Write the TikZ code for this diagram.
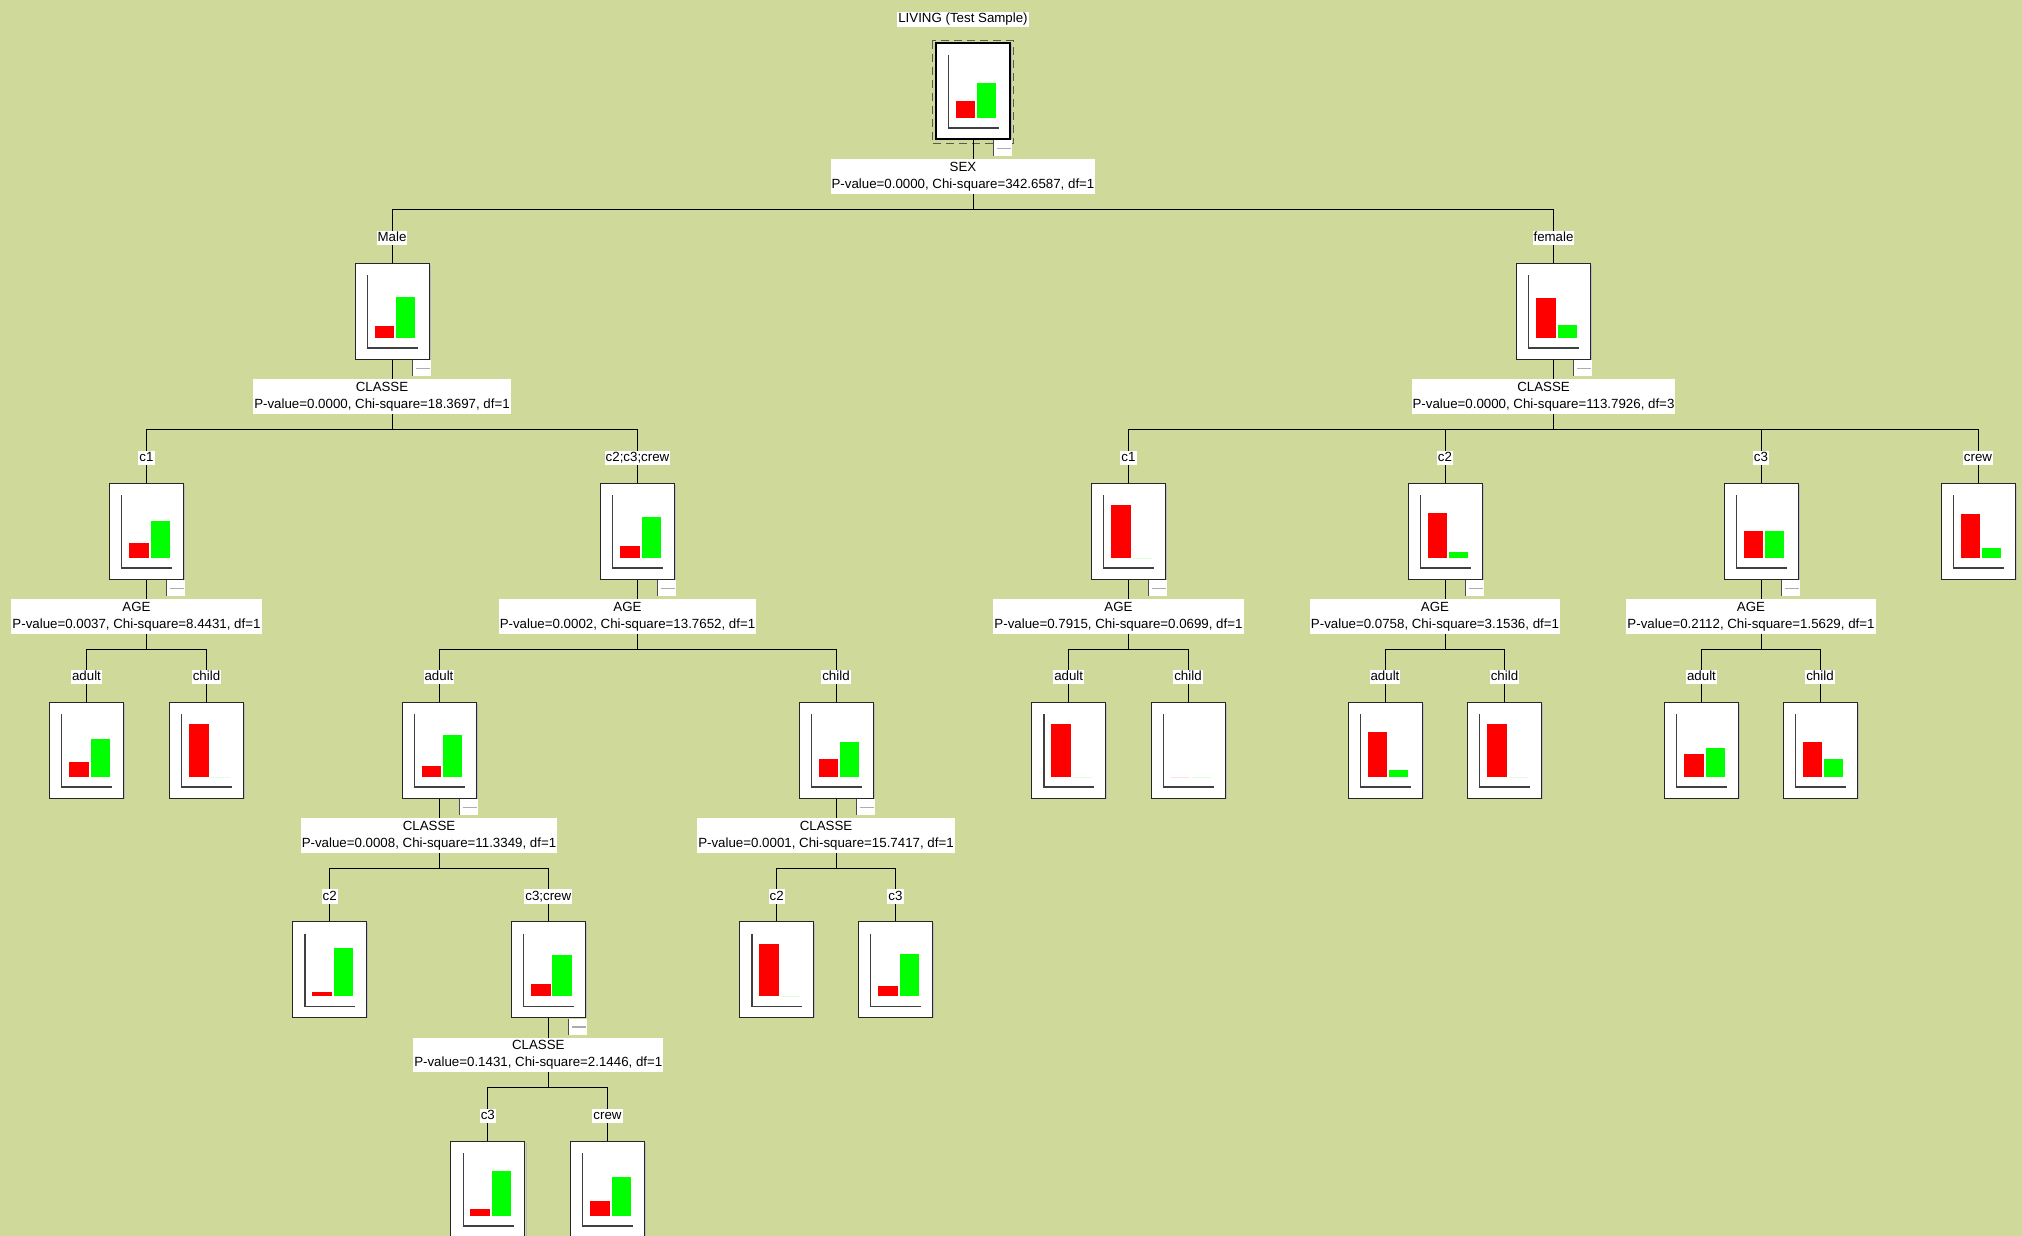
\documentclass[tikz,border=0pt]{standalone}
\usepackage{fontspec}
\setmainfont{Liberation Sans}
\definecolor{bgc}{RGB}{206,217,154}
\definecolor{barred}{RGB}{255,0,0}
\definecolor{bargreen}{RGB}{0,255,0}
\tikzset{
 tbox/.style={draw=black!85, fill=white, minimum width=74pt, minimum height=96pt, inner sep=0pt, line width=1pt},
 conn/.style={draw=black, line width=1pt},
 splitlab/.style={fill=white, align=center, inner xsep=1pt, inner ysep=2.5pt, font=\fontsize{13.3}{17.2}\selectfont},
 edgelab/.style={fill=white, inner xsep=1pt, inner ysep=1pt, text height=9.6pt, text depth=2.6pt, font=\fontsize{13.3}{17.2}\selectfont},
 axisln/.style={draw=black!75, line width=1.2pt},
}
\newcommand\chartbox[6][]{%
  \node[tbox,#1] (#2) at (#3,#4+48) {};
  \draw[gray!55, line width=1pt] (#3+38.2,#4+1.5) -- (#3+38.2,#4+96.5);
  \draw[axisln] (#3-24.7,#4+12) -- (#3-24.7,#4+85) -- (#3+25.7,#4+85);
  \fill[barred] (#3-17.4,#4+74.7) rectangle ++(19.7,-#5);
  \fill[bargreen] (#3+4,#4+74.7) rectangle ++(19.3,-#6);
}
\newcommand\minusbtn[2]{%
  \fill[white] (#1+20,#2+97) rectangle (#1+38.5,#2+113);
  \draw[black!70, line width=0.9pt] (#1+20,#2+97) -- (#1+20,#2+113);
  \draw[gray!65, line width=1.3pt] (#1+23.5,#2+105.5) -- (#1+37.5,#2+105.5);
}
\begin{document}
\begin{tikzpicture}[x=1pt,y=-1pt]
\useasboundingbox (0,0) rectangle (2022,1236);
\clip (0,0) rectangle (2022,1236);
\fill[bgc] (0,0) rectangle (2022,1236);

% ---------- boxes ----------
\draw[black!65, line width=1pt, dash pattern=on 8pt off 5pt] (932,41) rectangle (1013,144);
\chartbox[line width=2.5pt, draw=black]{root}{973}{43}{16.5}{34.5}
\minusbtn{973}{43}

\chartbox{male}{392}{263}{11.7}{40.7}
\minusbtn{392}{263}
\chartbox{female}{1553.5}{263}{39.4}{12.7}
\minusbtn{1553.5}{263}

\chartbox{mca}{146.5}{483}{15}{36.7}
\minusbtn{146.5}{483}
\chartbox{mcb}{637.5}{483}{11.3}{41.2}
\minusbtn{637.5}{483}
\chartbox{fca}{1128.5}{483}{52.7}{0}
\minusbtn{1128.5}{483}
\chartbox{fcb}{1445}{483}{45}{5.5}
\minusbtn{1445}{483}
\chartbox{fcc}{1761}{483}{26.5}{26.5}
\minusbtn{1761}{483}
\chartbox{fcd}{1978}{483}{43.7}{9.4}

\chartbox{mcaA}{86.5}{702}{15}{37.4}
\chartbox{mcaC}{206.5}{702}{52.7}{0}
\chartbox{mcbA}{439}{702}{11}{41.7}
\minusbtn{439}{702}
\chartbox{mcbC}{836}{702}{18}{34.8}
\minusbtn{836}{702}
\chartbox{fcaA}{1068.7}{702}{52.7}{0}
\chartbox{fcaC}{1188}{702}{0}{0}
\chartbox{fcbA}{1385}{702}{45}{6.7}
\chartbox{fcbC}{1504.5}{702}{52.7}{0}
\chartbox{fccA}{1701.5}{702}{22.5}{29}
\chartbox{fccC}{1820}{702}{34.8}{18}

\chartbox{aTwo}{329.7}{921.5}{4.4}{48.4}
\chartbox{aThree}{548.3}{921.5}{12.4}{41}
\minusbtn{548.3}{921.5}
\chartbox{cTwo}{776.7}{921.5}{52.7}{0}
\chartbox{cThree}{895.5}{921.5}{10.7}{42.4}

\chartbox{dThree}{487.8}{1141}{7}{45}
\chartbox{dCrew}{607.5}{1141}{14.4}{38.4}

% ---------- connectors ----------
\coordinate (rootJ) at (973,209.5);
\draw[conn] (root.south) -- (rootJ);
\draw[conn] (rootJ) -| (male.north);
\draw[conn] (rootJ) -| (female.north);

\coordinate (maleJ) at (392,429);
\draw[conn] (male.south) -- (maleJ);
\draw[conn] (maleJ) -| (mca.north);
\draw[conn] (maleJ) -| (mcb.north);

\coordinate (femaleJ) at (1553.5,429);
\draw[conn] (female.south) -- (femaleJ);
\draw[conn] (femaleJ) -| (fca.north);
\draw[conn] (femaleJ) -| (fcb.north);
\draw[conn] (femaleJ) -| (fcc.north);
\draw[conn] (femaleJ) -| (fcd.north);

\coordinate (mcaJ) at (146.5,649);
\draw[conn] (mca.south) -- (mcaJ);
\draw[conn] (mcaJ) -| (mcaA.north);
\draw[conn] (mcaJ) -| (mcaC.north);

\coordinate (mcbJ) at (637.5,649);
\draw[conn] (mcb.south) -- (mcbJ);
\draw[conn] (mcbJ) -| (mcbA.north);
\draw[conn] (mcbJ) -| (mcbC.north);

\coordinate (fcaJ) at (1128.5,649);
\draw[conn] (fca.south) -- (fcaJ);
\draw[conn] (fcaJ) -| (fcaA.north);
\draw[conn] (fcaJ) -| (fcaC.north);

\coordinate (fcbJ) at (1445,649);
\draw[conn] (fcb.south) -- (fcbJ);
\draw[conn] (fcbJ) -| (fcbA.north);
\draw[conn] (fcbJ) -| (fcbC.north);

\coordinate (fccJ) at (1761,649);
\draw[conn] (fcc.south) -- (fccJ);
\draw[conn] (fccJ) -| (fccA.north);
\draw[conn] (fccJ) -| (fccC.north);

\coordinate (mcbAJ) at (439,868);
\draw[conn] (mcbA.south) -- (mcbAJ);
\draw[conn] (mcbAJ) -| (aTwo.north);
\draw[conn] (mcbAJ) -| (aThree.north);

\coordinate (mcbCJ) at (836,868);
\draw[conn] (mcbC.south) -- (mcbCJ);
\draw[conn] (mcbCJ) -| (cTwo.north);
\draw[conn] (mcbCJ) -| (cThree.north);

\coordinate (aThreeJ) at (548.3,1087.5);
\draw[conn] (aThree.south) -- (aThreeJ);
\draw[conn] (aThreeJ) -| (dThree.north);
\draw[conn] (aThreeJ) -| (dCrew.north);

% ---------- title ----------
\node[edgelab] (title) at (963,19.5) {LIVING (Test Sample)};

% ---------- split labels ----------
\node[splitlab] (rootL) at (963,176.5) {SEX\\P-value=0.0000, Chi-square=342.6587, df=1};
\node[splitlab] (maleL) at (382,396.5) {CLASSE\\P-value=0.0000, Chi-square=18.3697, df=1};
\node[splitlab] (femaleL) at (1543.5,396.5) {CLASSE\\P-value=0.0000, Chi-square=113.7926, df=3};
\node[splitlab] (mcaL) at (136.5,616.5) {AGE\\P-value=0.0037, Chi-square=8.4431, df=1};
\node[splitlab] (mcbL) at (627.5,616.5) {AGE\\P-value=0.0002, Chi-square=13.7652, df=1};
\node[splitlab] (fcaL) at (1118.5,616.5) {AGE\\P-value=0.7915, Chi-square=0.0699, df=1};
\node[splitlab] (fcbL) at (1435,616.5) {AGE\\P-value=0.0758, Chi-square=3.1536, df=1};
\node[splitlab] (fccL) at (1751,616.5) {AGE\\P-value=0.2112, Chi-square=1.5629, df=1};
\node[splitlab] (mcbAL) at (429,835.5) {CLASSE\\P-value=0.0008, Chi-square=11.3349, df=1};
\node[splitlab] (mcbCL) at (826,835.5) {CLASSE\\P-value=0.0001, Chi-square=15.7417, df=1};
\node[splitlab] (aThreeL) at (538.3,1055) {CLASSE\\P-value=0.1431, Chi-square=2.1446, df=1};

% ---------- edge labels ----------
\node[edgelab] (eMale) at (392,238) {Male};
\node[edgelab] (eFemale) at (1553.5,238) {female};
\node[edgelab] (eMca) at (146.5,458) {c1};
\node[edgelab] (eMcb) at (637.5,458) {c2;c3;crew};
\node[edgelab] (eFca) at (1128.5,458) {c1};
\node[edgelab] (eFcb) at (1445,458) {c2};
\node[edgelab] (eFcc) at (1761,458) {c3};
\node[edgelab] (eFcd) at (1978,458) {crew};
\node[edgelab] (eMcaA) at (86.5,677) {adult};
\node[edgelab] (eMcaC) at (206.5,677) {child};
\node[edgelab] (eMcbA) at (439,677) {adult};
\node[edgelab] (eMcbC) at (836,677) {child};
\node[edgelab] (eFcaA) at (1068.7,677) {adult};
\node[edgelab] (eFcaC) at (1188,677) {child};
\node[edgelab] (eFcbA) at (1385,677) {adult};
\node[edgelab] (eFcbC) at (1504.5,677) {child};
\node[edgelab] (eFccA) at (1701.5,677) {adult};
\node[edgelab] (eFccC) at (1820,677) {child};
\node[edgelab] (eaTwo) at (329.7,896.5) {c2};
\node[edgelab] (eaThree) at (548.3,896.5) {c3;crew};
\node[edgelab] (ecTwo) at (776.7,896.5) {c2};
\node[edgelab] (ecThree) at (895.5,896.5) {c3};
\node[edgelab] (edThree) at (487.8,1116) {c3};
\node[edgelab] (edCrew) at (607.5,1116) {crew};
\end{tikzpicture}
\end{document}
